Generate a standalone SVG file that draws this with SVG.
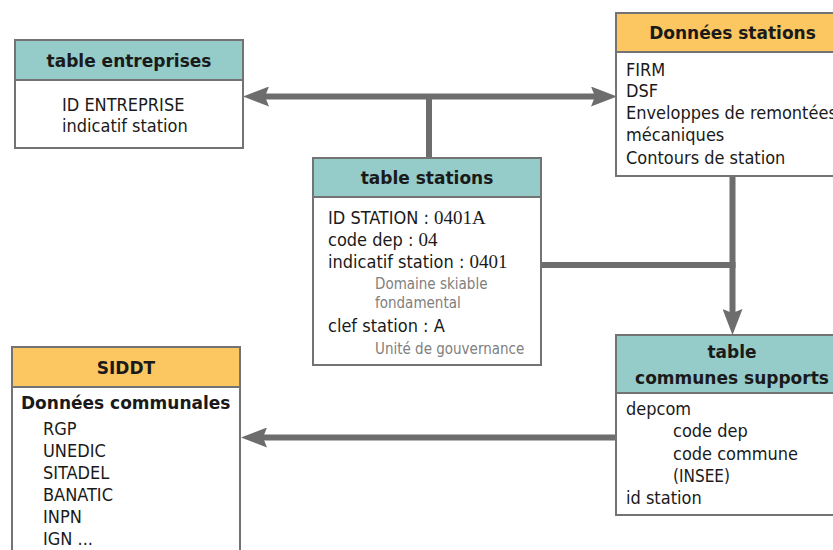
<svg xmlns="http://www.w3.org/2000/svg" width="833" height="550" viewBox="0 0 833 550">
<defs>
<style>
.box{fill:#ffffff;stroke:#737373;stroke-width:2}
.hteal{fill:#95cbc9;stroke:#737373;stroke-width:2}
.horange{fill:#fcc661;stroke:#737373;stroke-width:2}
.h{font-family:'DejaVu Sans','Liberation Sans',sans-serif;font-weight:bold;font-size:17px;fill:#1a1a1a;text-anchor:middle}
.t{font-family:'DejaVu Sans Condensed','DejaVu Sans','Liberation Sans',sans-serif;font-stretch:condensed;font-size:18px;fill:#1a1a1a}
.g{font-family:'DejaVu Sans Condensed','DejaVu Sans','Liberation Sans',sans-serif;font-stretch:condensed;font-size:15px;fill:#808080}
.b{font-family:'DejaVu Sans','Liberation Sans',sans-serif;font-weight:bold;font-size:17px;fill:#1a1a1a}
.s{font-family:'Liberation Serif',serif;font-stretch:normal;font-size:19px}
.c{fill:none;stroke:#6d6d6d;stroke-width:6}
</style>
<marker id="ah" viewBox="0 0 26 20" refX="4" refY="10" markerWidth="26" markerHeight="20" markerUnits="userSpaceOnUse" orient="auto-start-reverse">
<path d="M0,0 L26,10 L0,20 L4,10 Z" fill="#6d6d6d"/>
</marker>
</defs>
<rect width="833" height="550" fill="#ffffff"/>

<g id="connectors">
<path class="c" d="M265,96.5 H595" marker-start="url(#ah)" marker-end="url(#ah)"/>
<path class="c" d="M429,96.5 V158"/>
<path class="c" d="M541,265 H735.5"/>
<path class="c" d="M732.5,176 V313" marker-end="url(#ah)"/>
<path class="c" d="M616,437.5 H263" marker-end="url(#ah)"/>
</g>

<g id="table-entreprises">
<rect class="box" x="15" y="40" width="228" height="108"/>
<rect class="hteal" x="15" y="40" width="228" height="40"/>
<text class="h" x="129" y="67">table entreprises</text>
<text class="t" x="62" y="111">ID ENTREPRISE</text>
<text class="t" x="62" y="132">indicatif station</text>
</g>

<g id="donnees-stations">
<rect class="box" x="616" y="13" width="250" height="163"/>
<rect class="horange" x="616" y="13" width="250" height="39"/>
<text class="h" x="732.5" y="39">Données stations</text>
<text class="t" x="626" y="76">FIRM</text>
<text class="t" x="626" y="97">DSF</text>
<text class="t" x="626" y="119">Enveloppes de remontées</text>
<text class="t" x="626" y="141">mécaniques</text>
<text class="t" x="626" y="164">Contours de station</text>
</g>

<g id="table-stations">
<rect class="box" x="313" y="158" width="228" height="207"/>
<rect class="hteal" x="313" y="158" width="228" height="39"/>
<text class="h" x="427" y="184">table stations</text>
<text class="t" x="328" y="224">ID STATION : <tspan class="s">0401A</tspan></text>
<text class="t" x="328" y="246">code dep : <tspan class="s">04</tspan></text>
<text class="t" x="328" y="268">indicatif station : <tspan class="s">0401</tspan></text>
<text class="g" x="375" y="289">Domaine skiable</text>
<text class="g" x="375" y="308">fondamental</text>
<text class="t" x="328" y="332">clef station : A</text>
<text class="g" x="375" y="354">Unité de gouvernance</text>
</g>

<g id="table-communes-supports">
<rect class="box" x="616" y="335" width="250" height="180"/>
<rect class="hteal" x="616" y="335" width="250" height="58"/>
<text class="h" x="732" y="358">table</text>
<text class="h" x="732" y="384">communes supports</text>
<text class="t" x="626" y="415">depcom</text>
<text class="t" x="673" y="437">code dep</text>
<text class="t" x="673" y="460">code commune</text>
<text class="t" x="673" y="482" style="font-size:17px">(INSEE)</text>
<text class="t" x="626" y="504">id station</text>
</g>

<g id="siddt">
<rect class="box" x="12" y="347" width="228" height="230"/>
<rect class="horange" x="12" y="347" width="228" height="40"/>
<text class="h" x="126" y="374">SIDDT</text>
<text class="b" x="21" y="409">Données communales</text>
<text class="t" x="43" y="435">RGP</text>
<text class="t" x="43" y="457">UNEDIC</text>
<text class="t" x="43" y="479">SITADEL</text>
<text class="t" x="43" y="501">BANATIC</text>
<text class="t" x="43" y="523">INPN</text>
<text class="t" x="43" y="545">IGN ...</text>
</g>
</svg>
